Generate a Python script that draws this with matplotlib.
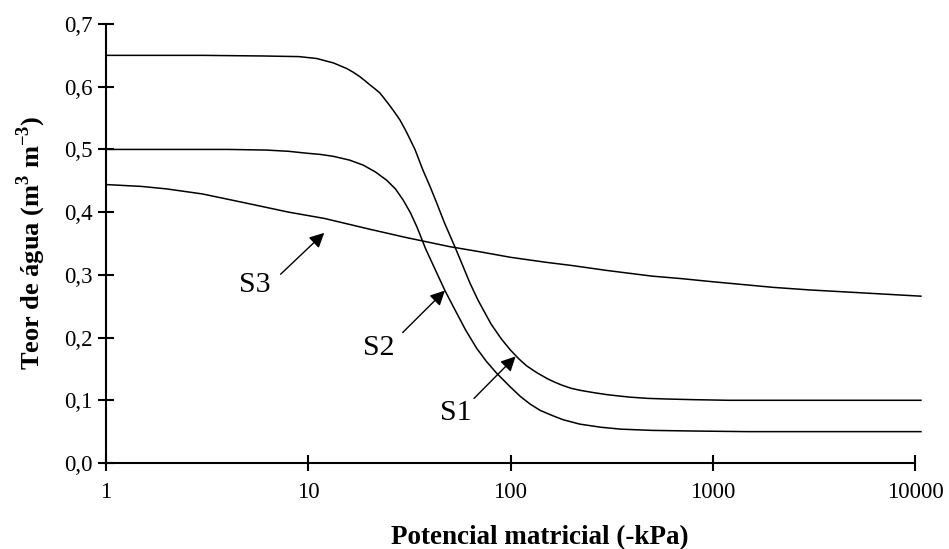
import matplotlib
matplotlib.use("Agg")
import matplotlib.pyplot as plt
from matplotlib.ticker import FuncFormatter, FixedLocator, NullLocator

# curvas de retenção (potencial em -kPa, teor em m3 m-3)
s1_x = [1, 3, 6, 9, 11, 13.3, 15.5, 16.7, 18, 19, 20, 21.3, 22.6, 23.8, 25, 26.5, 28.4,
        30, 31, 33.7, 36.9, 40, 43, 47, 53.2, 58, 63, 69, 80, 90, 100, 110, 120, 135,
        151, 165, 180, 200, 220, 260, 300, 340, 390, 480, 600, 800, 1200, 10700]
s1_y = [0.650, 0.650, 0.649, 0.648, 0.645, 0.638, 0.629, 0.623, 0.616, 0.610, 0.604,
        0.597, 0.590, 0.581, 0.572, 0.561, 0.547, 0.533, 0.524, 0.500, 0.467, 0.441,
        0.416, 0.384, 0.344, 0.315, 0.287, 0.260, 0.222, 0.198, 0.180, 0.166, 0.155,
        0.144, 0.135, 0.129, 0.124, 0.119, 0.116, 0.112, 0.109, 0.107, 0.105, 0.103,
        0.102, 0.101, 0.100, 0.100]

s2_x = [1, 4, 6.2, 8, 9.8, 11.5, 13.3, 16, 18.7, 21.5, 24.4, 27, 29.5, 32, 34.4, 38,
        43.2, 47.4, 52.2, 60, 68, 76, 85.5, 100, 112, 125, 140, 160, 182, 220, 280,
        350, 500, 800, 1500, 10700]
s2_y = [0.500, 0.500, 0.499, 0.497, 0.494, 0.492, 0.489, 0.483, 0.475, 0.464, 0.451,
        0.437, 0.419, 0.399, 0.377, 0.342, 0.303, 0.275, 0.249, 0.212, 0.183, 0.162,
        0.143, 0.121, 0.106, 0.094, 0.084, 0.076, 0.069, 0.062, 0.057, 0.054, 0.052,
        0.051, 0.050, 0.050]

s3_x = [1, 1.5, 2, 3, 5, 8, 12, 20, 30, 50, 70, 100, 150, 200, 300, 500, 700, 1000,
        2000, 3000, 5000, 10700]
s3_y = [0.444, 0.441, 0.437, 0.429, 0.414, 0.400, 0.390, 0.373, 0.360, 0.345, 0.337,
        0.328, 0.320, 0.315, 0.307, 0.298, 0.294, 0.289, 0.280, 0.276, 0.272, 0.266]

x_ticks = [1, 10, 100, 1000, 10000]
y_ticks = [0.0, 0.1, 0.2, 0.3, 0.4, 0.5, 0.6, 0.7]

# rótulos: texto, posição do texto, ponta da seta, cauda da seta
labels = [
    ("S1", (53.6, 0.079), (106, 0.170), (66, 0.103)),
    ("S2", (22.2, 0.183), (47.4, 0.275), (29.3, 0.208)),
    ("S3", (5.45, 0.284), (12.0, 0.367), (7.3, 0.301)),
]

plt.rcParams['font.family'] = ['Liberation Serif', 'DejaVu Serif']
plt.rcParams['mathtext.fontset'] = 'custom'
plt.rcParams['mathtext.rm'] = 'Liberation Serif:bold'
plt.rcParams['mathtext.bf'] = 'Liberation Serif:bold'

fig = plt.figure(figsize=(9.49, 5.49), dpi=100)
ax = fig.add_axes([106 / 949, 1 - 463 / 549, 809 / 949, 439 / 549])

for xs, ys in [(s1_x, s1_y), (s2_x, s2_y), (s3_x, s3_y)]:
    ax.plot(xs, ys, color='black', lw=1.1, clip_on=False)

for txt, tpos, tip, tail in labels:
    ax.annotate('', xy=tip, xytext=tail,
                arrowprops=dict(arrowstyle='-|>', color='black', lw=1.0,
                                mutation_scale=22, shrinkA=0, shrinkB=0))
    ax.text(tpos[0], tpos[1], txt, fontsize=21.5, ha='center', va='center')

ax.set_xscale('log')
ax.set_xlim(1, 10000)
ax.set_ylim(0, 0.7)
ax.xaxis.set_major_locator(FixedLocator(x_ticks))
ax.xaxis.set_minor_locator(NullLocator())
ax.xaxis.set_major_formatter(FuncFormatter(lambda v, p: f"{v:.0f}"))
ax.yaxis.set_major_locator(FixedLocator(y_ticks))
ax.yaxis.set_major_formatter(FuncFormatter(lambda v, p: f"{v:.1f}".replace('.', ',')))

for side in ['top', 'right']:
    ax.spines[side].set_visible(False)
for side in ['left', 'bottom']:
    ax.spines[side].set_linewidth(1.5)

ax.tick_params(axis='both', direction='inout', length=11, width=1.5, labelsize=16.5)
ax.tick_params(axis='y', pad=4)
ax.tick_params(axis='x', pad=8)

# títulos dos eixos
fig.text(540 / 949, 1 - 544 / 549, 'Potencial matricial (-kPa)', fontsize=19.5,
         fontweight='bold', ha='center', va='baseline')
fig.text(31.5 / 949, 1 - 242.5 / 549, 'Teor de água (m$^{3}$ m$^{-3}$)', fontsize=19,
         fontweight='bold', rotation=90, ha='center', va='center')

fig.savefig('out.png', dpi=100)
